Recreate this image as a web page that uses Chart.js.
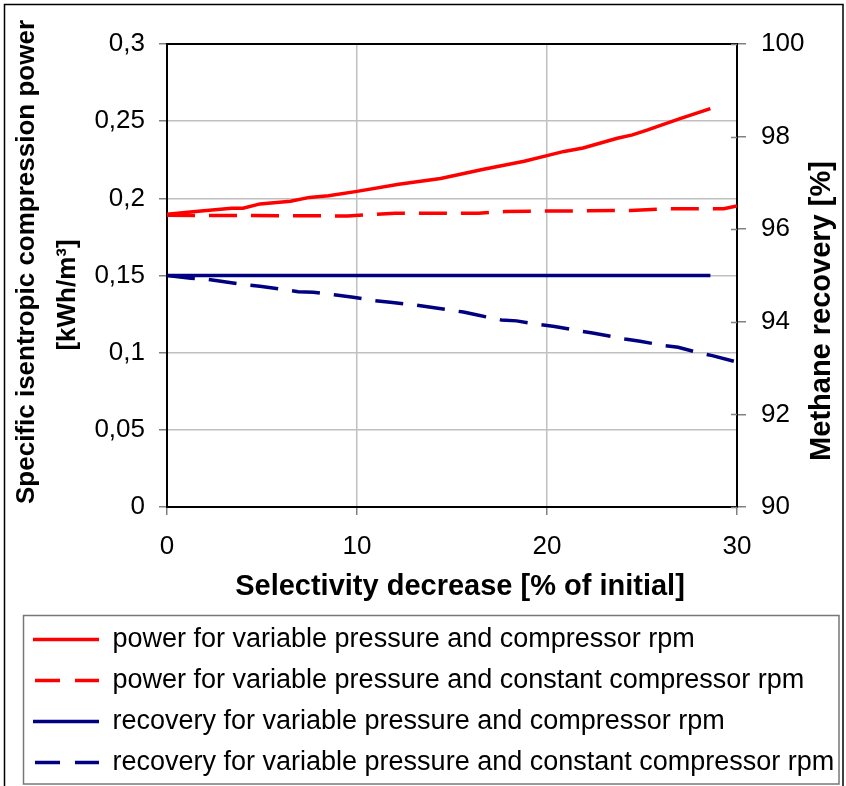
<!DOCTYPE html>
<html>
<head>
<meta charset="utf-8">
<script src="https://cdn.jsdelivr.net/npm/chart.js@4.4.1/dist/chart.umd.min.js"></script>
<style>
  html, body { margin: 0; padding: 0; background: #ffffff; }
  #wrap { width: 846px; height: 786px; }
</style>
</head>
<body>
<div id="wrap"><canvas id="c" width="846" height="786"></canvas></div>
<script>
// ---- data ----
const powerVarRpmX = [0, 1.5, 3.4, 4.0, 4.9, 6.5, 7.5, 8.5, 10, 12.2, 14.4, 16.6, 18.8, 20, 20.9, 21.9, 23.7, 24.5, 25.3, 27, 28.6];
const powerVarRpmY = [0.1896, 0.1915, 0.1936, 0.1936, 0.1964, 0.1981, 0.2006, 0.2017, 0.2045, 0.2091, 0.2128, 0.2187, 0.224, 0.2277, 0.2304, 0.2326, 0.2389, 0.2411, 0.2443, 0.2517, 0.2581];

const powerConstRpmX = [0, 9.5, 12, 16.4, 17.8, 20.4, 24.4, 26.1, 29.3, 30];
const powerConstRpmY = [0.189, 0.1886, 0.1904, 0.1904, 0.1914, 0.1918, 0.1921, 0.1932, 0.1932, 0.195];

const recoveryVarRpmX = [0, 5, 10, 15, 20, 25, 28.6];
const recoveryVarRpmY = [95, 95, 95, 95, 95, 95, 95];

const recoveryConstRpmX = [0, 1.25, 2.06, 4.08, 4.89, 6.9, 7.7, 8.9, 9.8, 10.9, 11.75, 12.9, 13.8, 15.6, 16.4, 17.6, 18.4, 19.6, 20.4, 21.6, 22.4, 24.1, 24.9, 26.1, 26.9, 28.1, 28.7, 29.9];
const recoveryConstRpmY = [95, 94.94, 94.92, 94.8, 94.77, 94.65, 94.64, 94.58, 94.53, 94.46, 94.42, 94.37, 94.32, 94.21, 94.14, 94.04, 94.02, 93.94, 93.9, 93.81, 93.76, 93.63, 93.58, 93.49, 93.45, 93.32, 93.27, 93.14];

const seriesLabels = [
  'power for variable pressure and compressor rpm',
  'power for variable pressure and constant compressor rpm',
  'recovery for variable pressure and compressor rpm',
  'recovery for variable pressure and constant compressor rpm'
];

const xTitle = 'Selectivity decrease [% of initial]';
const yLeftTitle = ['Specific isentropic compression power', '[kWh/m\u00B3]'];
const yRightTitle = 'Methane recovery [%]';

const xTicks = { min: 0, max: 30, step: 10 };
const yLeftTicks = { min: 0, max: 0.3, step: 0.05 };
const yRightTicks = { min: 90, max: 100, step: 2 };

// ---- helpers ----
const pts = (xs, ys) => xs.map((x, i) => ({ x: x, y: ys[i] }));
const FONT = "'Liberation Sans', Arial, Helvetica, sans-serif";
const RED = '#ff0000';
const NAVY = '#000080';
const DASH = [28, 14];
const LW = 3.5;

const decoratePlugin = {
  id: 'decorate',
  beforeDraw(chart) {
    const ctx = chart.ctx;
    ctx.save();
    ctx.fillStyle = '#ffffff';
    ctx.fillRect(0, 0, chart.width, chart.height);
    ctx.restore();
  },
  afterDraw(chart) {
    const ctx = chart.ctx;
    const a = chart.chartArea;
    ctx.save();
    // top frame line of plot area
    ctx.strokeStyle = '#000000';
    ctx.lineWidth = 2;
    ctx.beginPath();
    ctx.moveTo(a.left - 1, a.top);
    ctx.lineTo(a.right + 1, a.top);
    ctx.stroke();
    // inner half of cross ticks on right axis
    const yr = chart.scales.yR;
    ctx.strokeStyle = '#808080';
    ctx.lineWidth = 1.5;
    yr.ticks.forEach(t => {
      const py = Math.round(yr.getPixelForValue(t.value)) + 0.5;
      ctx.beginPath();
      ctx.moveTo(a.right - 6, py);
      ctx.lineTo(a.right, py);
      ctx.stroke();
    });
    // axis titles
    ctx.fillStyle = '#000000';
    ctx.textAlign = 'center';
    ctx.textBaseline = 'alphabetic';
    ctx.font = 'bold 26px ' + FONT;
    ctx.save(); ctx.translate(34, 262); ctx.rotate(-Math.PI / 2); ctx.fillText(yLeftTitle[0], 0, 0); ctx.restore();
    ctx.save(); ctx.translate(75, 295); ctx.rotate(-Math.PI / 2); ctx.fillText(yLeftTitle[1], 0, 0); ctx.restore();
    ctx.font = 'bold 29px ' + FONT;
    ctx.save(); ctx.translate(830, 311); ctx.rotate(-Math.PI / 2); ctx.fillText(yRightTitle, 0, 0); ctx.restore();
    ctx.font = 'bold 29px ' + FONT;
    ctx.fillText(xTitle, 460, 595);
    // legend frame
    ctx.strokeStyle = '#777777';
    ctx.lineWidth = 1.5;
    ctx.strokeRect(23.5, 615.5, 815.5, 168.5);
    // outer frame
    ctx.strokeStyle = '#000000';
    ctx.lineWidth = 1.5;
    ctx.beginPath();
    ctx.moveTo(4.5, 790);
    ctx.lineTo(4.5, 4.5);
    ctx.lineTo(843, 4.5);
    ctx.lineTo(843, 790);
    ctx.stroke();
    ctx.restore();
  }
};

const fmtComma = v => String(Math.round(v * 100) / 100).replace('.', ',');

new Chart(document.getElementById('c'), {
  type: 'line',
  data: {
    datasets: [
      { label: seriesLabels[0], data: pts(powerVarRpmX, powerVarRpmY), yAxisID: 'yL',
        borderColor: RED, backgroundColor: RED, borderWidth: LW, pointRadius: 0, tension: 0 },
      { label: seriesLabels[1], data: pts(powerConstRpmX, powerConstRpmY), yAxisID: 'yL',
        borderColor: RED, backgroundColor: RED, borderWidth: LW, borderDash: DASH, pointRadius: 0, tension: 0 },
      { label: seriesLabels[2], data: pts(recoveryVarRpmX, recoveryVarRpmY), yAxisID: 'yR',
        borderColor: NAVY, backgroundColor: NAVY, borderWidth: LW, pointRadius: 0, tension: 0 },
      { label: seriesLabels[3], data: pts(recoveryConstRpmX, recoveryConstRpmY), yAxisID: 'yR',
        borderColor: NAVY, backgroundColor: NAVY, borderWidth: LW, borderDash: DASH, pointRadius: 0, tension: 0 }
    ]
  },
  options: {
    responsive: false,
    animation: false,
    devicePixelRatio: 1,
    layout: { padding: { top: 44, left: 19, right: 0, bottom: 0 } },
    plugins: {
      tooltip: { enabled: false },
      legend: {
        position: 'bottom',
        align: 'start',
        labels: {
          color: '#000000',
          font: { family: FONT, size: 27 },
          padding: 14,
          usePointStyle: true,
          pointStyleWidth: 66,
          generateLabels(chart) {
            return chart.data.datasets.map((ds, i) => {
              const dashed = !!ds.borderDash;
              return {
                text: ds.label,
                datasetIndex: i,
                fillStyle: ds.borderColor,
                strokeStyle: ds.borderColor,
                lineWidth: LW,
                lineDash: dashed ? [25, 15] : [],
                lineDashOffset: dashed ? 38 : 0,
                lineCap: 'butt',
                pointStyle: 'line',
                fontColor: '#000000',
                hidden: false
              };
            });
          }
        }
      }
    },
    scales: {
      x: {
        type: 'linear',
        position: 'bottom',
        min: xTicks.min, max: xTicks.max,
        afterFit(s) { s.height = 105; },
        ticks: { stepSize: xTicks.step, color: '#000000', font: { family: FONT, size: 26 }, padding: 16 },
        grid: { color: '#c0c0c0', lineWidth: 1.5, tickColor: '#808080', tickLength: 8 },
        border: { color: '#000000', width: 2 }
      },
      yL: {
        type: 'linear',
        position: 'left',
        min: yLeftTicks.min, max: yLeftTicks.max,
        afterFit(s) { s.width = 148; },
        ticks: { stepSize: yLeftTicks.step, color: '#000000', font: { family: FONT, size: 26 }, padding: 14, callback: fmtComma },
        grid: { color: '#c0c0c0', lineWidth: 1.5, tickColor: '#808080', tickLength: 8 },
        border: { color: '#000000', width: 2 }
      },
      yR: {
        type: 'linear',
        position: 'right',
        min: yRightTicks.min, max: yRightTicks.max,
        afterFit(s) { s.width = 109; },
        ticks: { stepSize: yRightTicks.step, color: '#000000', font: { family: FONT, size: 26 }, padding: 15 },
        grid: { drawOnChartArea: false, tickColor: '#808080', tickLength: 9, lineWidth: 1.5 },
        border: { color: '#000000', width: 2 }
      }
    }
  },
  plugins: [decoratePlugin]
});
</script>
</body>
</html>
